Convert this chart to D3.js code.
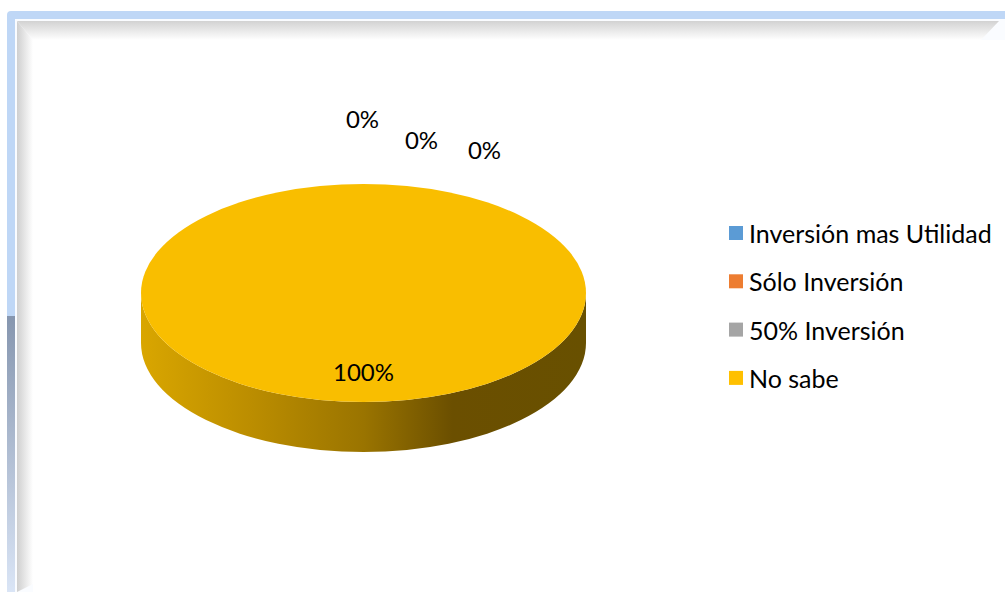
<!DOCTYPE html>
<html>
<head>
<meta charset="utf-8">
<script src="https://cdn.jsdelivr.net/npm/d3@7"></script>
<style>
  html, body { margin: 0; padding: 0; background: #ffffff; }
  svg { display: block; }
  text { font-family: "Lato", "Open Sans", sans-serif; fill: #000; }
</style>
</head>
<body>
<svg id="chart" width="1005" height="592"></svg>
<script>
// Survey answers and their shares (%)
const categories = ["Inversión mas Utilidad", "Sólo Inversión", "50% Inversión", "No sabe"];
const values = [0, 0, 0, 100];
const colors = ["#5B9BD5", "#ED7D31", "#A5A5A5", "#FFC000"];
const topColors = ["#5B9BD5", "#ED7D31", "#A5A5A5", "#F9BE00"];

const W = 1005, H = 592;
const svg = d3.select("#chart");
const defs = svg.append("defs");

// ---------- frame ----------
const gTop = defs.append("linearGradient").attr("id", "shTop").attr("x1", 0).attr("y1", 0).attr("x2", 0).attr("y2", 1);
gTop.append("stop").attr("offset", 0).attr("stop-color", "#d2d2d2");
gTop.append("stop").attr("offset", 1).attr("stop-color", "#ffffff");
const gLeft = defs.append("linearGradient").attr("id", "shLeft").attr("x1", 0).attr("y1", 0).attr("x2", 1).attr("y2", 0);
gLeft.append("stop").attr("offset", 0).attr("stop-color", "#cfcfcf");
gLeft.append("stop").attr("offset", 1).attr("stop-color", "#ffffff");
const gBand = defs.append("linearGradient").attr("id", "band").attr("x1", 0).attr("y1", 0).attr("x2", 0).attr("y2", 1);
gBand.append("stop").attr("offset", 0).attr("stop-color", "#8696af");
gBand.append("stop").attr("offset", 1).attr("stop-color", "#dae5f6");

// outer light-blue band
svg.append("rect").attr("x", 7).attr("y", 11).attr("width", W + 20).attr("height", H + 20)
  .attr("rx", 4).attr("fill", "#bfd7f6");
// lower part of the left band
svg.append("rect").attr("x", 7).attr("y", 316).attr("width", 8).attr("height", H - 316)
  .attr("fill", "url(#band)");
// thin white line
svg.append("rect").attr("x", 15).attr("y", 19).attr("width", W).attr("height", H)
  .attr("fill", "#fafcff");
// inner shadow, top and left
svg.append("path")
  .attr("d", `M17,21 L${W - 6},21 L${W - 24},40 L33,40 Z`)
  .attr("fill", "url(#shTop)");
svg.append("path")
  .attr("d", `M17,21 L33,40 L33,${H - 8} L17,${H} Z`)
  .attr("fill", "url(#shLeft)");
svg.append("rect").attr("x", 33).attr("y", 40).attr("width", W).attr("height", H)
  .attr("fill", "#ffffff");

// ---------- 3D pie ----------
const cx = 363.5, cy = 293, rx = 222.5, ry = 109, depth = 50;
const pie = d3.pie().sort(null).value(d => d)(values);

const side = defs.append("linearGradient").attr("id", "side")
  .attr("gradientUnits", "userSpaceOnUse")
  .attr("x1", cx - rx).attr("x2", cx + rx).attr("y1", 0).attr("y2", 0);
[[0, "#d9a600"], [0.25, "#bb8d00"], [0.5, "#9a7400"], [0.7, "#6b4f00"], [1, "#685000"]]
  .forEach(([o, c]) => side.append("stop").attr("offset", o).attr("stop-color", c));

const px = a => cx + rx * Math.sin(a);
const py = (a, dy = 0) => cy - ry * Math.cos(a) + dy;

// front wall of each slice (angles between 90° and 270°)
const gSide = svg.append("g");
pie.forEach((s, i) => {
  const a0 = Math.max(s.startAngle, Math.PI / 2);
  const a1 = Math.min(s.endAngle, 3 * Math.PI / 2);
  if (a1 - a0 <= 1e-6) return;
  const large = (a1 - a0) > Math.PI ? 1 : 0;
  const d = `M${px(a0)},${py(a0)} A${rx},${ry} 0 ${large} 1 ${px(a1)},${py(a1)}` +
            ` L${px(a1)},${py(a1, depth)} A${rx},${ry} 0 ${large} 0 ${px(a0)},${py(a0, depth)} Z`;
  gSide.append("path").attr("d", d)
    .attr("fill", i === 3 ? "url(#side)" : d3.color(colors[i]).darker(0.8));
});

// top face: circular arcs squashed into an ellipse
const arc = d3.arc().innerRadius(0).outerRadius(rx);
svg.append("g")
  .attr("transform", `translate(${cx},${cy}) scale(1,${ry / rx})`)
  .selectAll("path").data(pie).join("path")
  .attr("d", arc)
  .attr("fill", (d, i) => topColors[i]);

// ---------- data labels ----------
// zero-size slices sit at the top; their labels are fanned out to avoid overlap
const zeroShift = [[0, 0], [59, 21], [122, 31]];
let z = 0;
pie.forEach((s, i) => {
  const mid = (s.startAngle + s.endAngle) / 2;
  let x, y;
  if (s.value === 0) {
    const off = zeroShift[z++] || [0, 0];
    x = px(mid) - 1 + off[0];
    y = py(mid) - 66 + off[1];
  } else {
    x = cx + (px(mid) - cx) * 0.72;
    y = cy + (py(mid) - cy) * 0.72;
  }
  svg.append("text")
    .attr("x", x).attr("y", y)
    .attr("text-anchor", "middle").attr("dominant-baseline", "central")
    .attr("font-size", 24)
    .text(d3.format(".0%")(s.value / 100));
});

// ---------- legend ----------
const leg = svg.append("g").attr("transform", "translate(729,233)");
const row = leg.selectAll("g").data(categories).join("g")
  .attr("transform", (d, i) => `translate(0,${i * 48.3})`);
row.append("rect").attr("x", 0).attr("y", -7).attr("width", 14).attr("height", 14)
  .attr("fill", (d, i) => colors[i]);
row.append("text").attr("x", 20).attr("y", 0)
  .attr("dominant-baseline", "central").attr("font-size", 25)
  .text(d => d);
</script>
</body>
</html>
